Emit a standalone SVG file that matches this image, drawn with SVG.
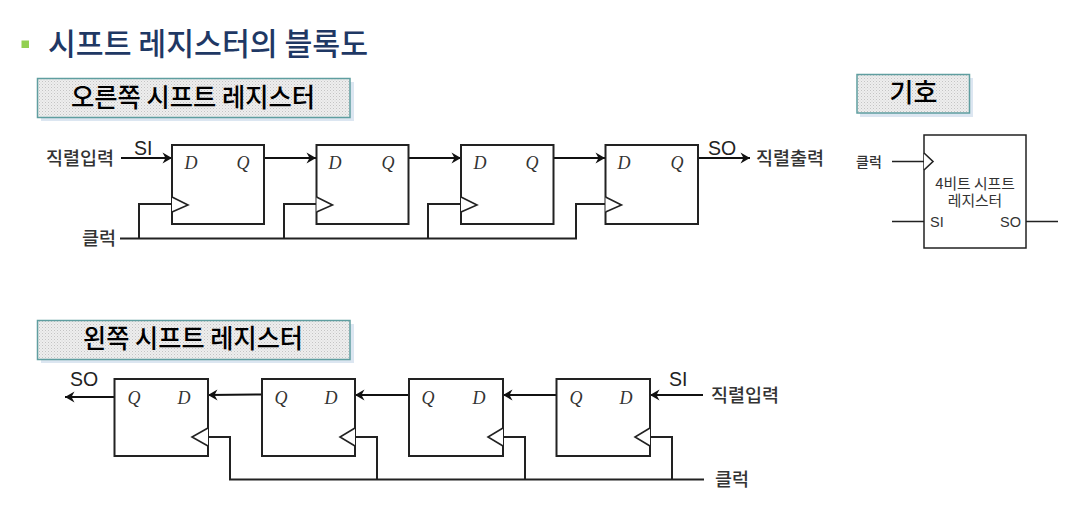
<svg xmlns="http://www.w3.org/2000/svg" width="1083" height="507" viewBox="0 0 1083 507">
<style>
text{font-family:"Noto Sans CJK KR","Liberation Sans",sans-serif;fill:#222}
.ban{fill:url(#dots);stroke:#5f9ea0;stroke-width:1.5}
.shd{fill:#dce6f1}
.bt{font-size:26px;font-weight:500;fill:#000;text-anchor:middle}
.box{fill:#fff;stroke:#222;stroke-width:2}
.tri{fill:#fff;stroke:#222;stroke-width:1.6}
.w{fill:none;stroke:#222;stroke-width:2}
.a{fill:none;stroke:#111;stroke-width:2;marker-end:url(#arr)}
.l{font-size:18.500px;font-weight:500;fill:#333}
.en{font-family:"Liberation Sans",sans-serif;font-size:19.500px;fill:#222}
.m{font-family:"Liberation Serif",serif;font-style:italic;font-size:18px;fill:#333;text-anchor:middle}
.s{font-size:14.800px;text-anchor:middle;fill:#333}
</style>
<defs>
<pattern id="dots" width="3" height="3" patternUnits="userSpaceOnUse"><rect width="3" height="3" fill="#eeeeee"/><rect width="1" height="1" fill="#c4c4c4"/><rect x="1.500" y="1.500" width="1" height="1" fill="#d4d4d4"/></pattern>
<marker id="arr" markerUnits="userSpaceOnUse" markerWidth="14" markerHeight="14" refX="10" refY="7" orient="auto"><path d="M0.500 1.500L10 7L0.500 12.500L3.500 7Z" fill="#111"/></marker>
</defs>
<g id="title">
<rect x="21.500" y="40.500" width="7.500" height="7.500" fill="#92d050"/>
<text x="48" y="55" font-size="31" font-weight="500" style="fill:#1f3864" textLength="320" lengthAdjust="spacingAndGlyphs">시프트 레지스터의 블록도</text>
</g>
<g id="banner-right">
<rect class="shd" x="41" y="82" width="313" height="39"/>
<rect class="ban" x="37.500" y="78.500" width="312.500" height="39"/>
<text class="bt" x="193" y="107" textLength="244" lengthAdjust="spacingAndGlyphs">오른쪽 시프트 레지스터</text>
</g>
<g id="banner-left">
<rect class="shd" x="41" y="324" width="313" height="39"/>
<rect class="ban" x="37.500" y="320.500" width="312.500" height="39"/>
<text class="bt" x="193" y="348" textLength="220" lengthAdjust="spacingAndGlyphs">왼쪽 시프트 레지스터</text>
</g>
<g id="banner-symbol">
<rect class="shd" x="860" y="78" width="113" height="39"/>
<rect class="ban" x="857" y="74.500" width="112.500" height="38.500"/>
<text class="bt" x="913.500" y="102">기호</text>
</g>
<g id="connectors">
<path class="a" d="M121 158H172"/>
<path class="a" d="M264 158H316"/>
<path class="a" d="M409 158H461"/>
<path class="a" d="M554 158H605"/>
<path class="a" d="M698 158H750"/>
<path class="w" d="M120 238.500H576V204H605M139 238.500V204H172M284 238.500V204H316M428 238.500V204H461"/>
<path class="a" d="M114 397H65"/>
<path class="a" d="M262 394.500L208 395"/>
<path class="a" d="M409 395H355"/>
<path class="a" d="M556 395H503"/>
<path class="a" d="M703 395H650"/>
<path class="w" d="M208 437H230V479.500H704M355 437H377V479.500M503 437H525V479.500M650 437H672V479.500"/>
<path class="w" d="M892 161.500H924M892 221.500H924M1026 221.500H1058" style="stroke-width:1.500"/>
</g>
<g id="ff-r1"><rect class="box" x="172" y="145" width="92" height="79"/><path class="tri" d="M172 197L188 205L172 212"/><text class="m" x="191" y="169">D</text><text class="m" x="243" y="169">Q</text></g>
<g id="ff-r2"><rect class="box" x="316.500" y="145" width="92" height="79"/><path class="tri" d="M316.500 197L332.500 205L316.500 212"/><text class="m" x="335" y="169">D</text><text class="m" x="388" y="169">Q</text></g>
<g id="ff-r3"><rect class="box" x="461" y="145" width="92.500" height="79"/><path class="tri" d="M461 197L477 205L461 212"/><text class="m" x="480" y="169">D</text><text class="m" x="532" y="169">Q</text></g>
<g id="ff-r4"><rect class="box" x="605.500" y="145" width="92.500" height="79"/><path class="tri" d="M605.500 197L621.500 205L605.500 212"/><text class="m" x="624" y="169">D</text><text class="m" x="677" y="169">Q</text></g>
<g id="ff-l1"><rect class="box" x="114.500" y="379" width="93.500" height="77"/><path class="tri" d="M208 428L192 437L208 446"/><text class="m" x="134" y="404">Q</text><text class="m" x="184" y="404">D</text></g>
<g id="ff-l2"><rect class="box" x="262" y="379" width="93" height="77"/><path class="tri" d="M355 428L340 437L355 446"/><text class="m" x="281" y="404">Q</text><text class="m" x="331" y="404">D</text></g>
<g id="ff-l3"><rect class="box" x="409" y="379" width="94" height="77"/><path class="tri" d="M503 428L488 437L503 446"/><text class="m" x="428" y="404">Q</text><text class="m" x="479" y="404">D</text></g>
<g id="ff-l4"><rect class="box" x="556.500" y="379" width="93.500" height="77"/><path class="tri" d="M650 428L635 437L650 446"/><text class="m" x="576" y="404">Q</text><text class="m" x="626" y="404">D</text></g>
<g id="labels">
<text class="l" x="46" y="165">직렬입력</text>
<text class="en" x="134" y="155">SI</text>
<text class="l" x="82" y="245">클럭</text>
<text class="en" x="708" y="155">SO</text>
<text class="l" x="756" y="165">직렬출력</text>
<text class="en" x="70" y="386">SO</text>
<text class="en" x="669" y="386">SI</text>
<text class="l" x="711" y="402">직렬입력</text>
<text class="l" x="715" y="486">클럭</text>
</g>
<g id="symbol">
<rect class="box" x="924" y="135" width="102" height="113" style="stroke-width:1.500"/>
<path class="tri" d="M924 153L933 161.500L924 170"/>
<text class="s" x="869" y="167" style="font-weight:500;font-size:14px">클럭</text>
<text class="s"><tspan x="975" y="189">4비트 시프트</tspan><tspan x="975" y="205.500">레지스터</tspan></text>
<text x="930" y="227" style="font-family:'Liberation Sans',sans-serif;font-size:14.500px;fill:#333">SI</text>
<text x="1000" y="227" style="font-family:'Liberation Sans',sans-serif;font-size:14.500px;fill:#333">SO</text>
</g>
</svg>
